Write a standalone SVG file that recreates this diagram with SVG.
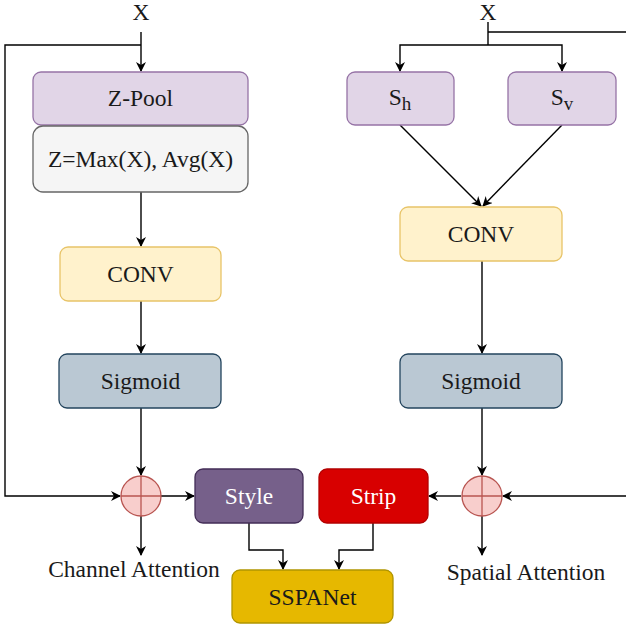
<svg xmlns="http://www.w3.org/2000/svg" width="626" height="629" viewBox="0 0 626 629">
  <defs>
    <marker id="arrow" viewBox="0 0 10 10" refX="9" refY="5" markerWidth="10" markerHeight="10" markerUnits="userSpaceOnUse" orient="auto">
      <path d="M0,0 L10,5 L0,10 L3,5 Z" fill="#000"/>
    </marker>
  </defs>
  <style>
    .t { font-family: "Liberation Serif", "Times New Roman", serif; font-size: 23.5px; fill: #1a1a1a; text-anchor: middle; }
    .w { fill: #ffffff; }
    .edge { fill: none; stroke: #000; stroke-width: 1.4; }
    .arr { marker-end: url(#arrow); }
    .purple { fill: #e1d5e7; stroke: #9673a6; stroke-width: 1.3; }
    .grey { fill: #f5f5f5; stroke: #666666; stroke-width: 1.3; }
    .yellow { fill: #fff2cc; stroke: #e8c468; stroke-width: 1.3; }
    .blue { fill: #bac8d3; stroke: #23445d; stroke-width: 1.3; }
    .sum circle { fill: #f8cecc; stroke: #b85450; stroke-width: 1.3; }
    .sum line { stroke: #b85450; stroke-width: 1.3; }
  </style>

  <!-- input labels -->
  <g id="input-left"><text class="t" x="141" y="20">X</text></g>
  <g id="input-right"><text class="t" x="488" y="20">X</text></g>

  <!-- connectors -->
  <g id="edges">
    <!-- left branch -->
    <path class="edge arr" d="M141,32 V71"/>
    <path class="edge arr" d="M141,45 H5 V496 H120"/>
    <path class="edge arr" d="M141,192 V246"/>
    <path class="edge arr" d="M141,301 V353"/>
    <path class="edge arr" d="M141,408 V475"/>
    <path class="edge arr" d="M161,496 H194"/>
    <path class="edge arr" d="M141,516 V555"/>
    <path class="edge arr" d="M249,523 V550 H283 V569"/>
    <!-- right branch -->
    <path class="edge" d="M488,22 V45"/>
    <path class="edge" d="M488,32 H626"/>
    <path class="edge arr" d="M488,45 H400 V71"/>
    <path class="edge arr" d="M488,45 H562 V71"/>
    <path class="edge arr" d="M400,125 L481,206"/>
    <path class="edge arr" d="M562,125 L483,206"/>
    <path class="edge arr" d="M482,261 V353"/>
    <path class="edge arr" d="M482,408 V475"/>
    <path class="edge arr" d="M626,496 H503"/>
    <path class="edge arr" d="M461,496 H429"/>
    <path class="edge arr" d="M482,516 V555"/>
    <path class="edge arr" d="M373,523 V550 H339 V569"/>
  </g>

  <!-- channel attention branch -->
  <g id="zpool">
    <rect class="purple" x="33" y="72" width="215" height="53" rx="8"/>
    <text class="t" x="140.5" y="106">Z-Pool</text>
  </g>
  <g id="zmax">
    <rect class="grey" x="33" y="126" width="215" height="66" rx="10"/>
    <text class="t" x="140.5" y="167" fill="#333">Z=Max(X), Avg(X)</text>
  </g>
  <g id="conv-left">
    <rect class="yellow" x="60" y="247" width="161" height="54" rx="8"/>
    <text class="t" x="140.5" y="282">CONV</text>
  </g>
  <g id="sigmoid-left">
    <rect class="blue" x="59" y="354" width="162" height="54" rx="8"/>
    <text class="t" x="140.5" y="389">Sigmoid</text>
  </g>
  <g id="sum-left" class="sum">
    <circle cx="141" cy="496" r="20"/>
    <line x1="121" y1="496" x2="161" y2="496"/>
    <line x1="141" y1="476" x2="141" y2="516"/>
  </g>
  <g id="label-channel"><text class="t" x="134" y="577">Channel Attention</text></g>

  <!-- spatial attention branch -->
  <g id="sh">
    <rect class="purple" x="347" y="72" width="107" height="53" rx="8"/>
    <text class="t" x="400" y="105">S<tspan font-size="19" dy="5">h</tspan></text>
  </g>
  <g id="sv">
    <rect class="purple" x="508" y="72" width="108" height="53" rx="8"/>
    <text class="t" x="562" y="105">S<tspan font-size="19" dy="5">v</tspan></text>
  </g>
  <g id="conv-right">
    <rect class="yellow" x="400" y="207" width="162" height="54" rx="8"/>
    <text class="t" x="481" y="242">CONV</text>
  </g>
  <g id="sigmoid-right">
    <rect class="blue" x="400" y="354" width="162" height="54" rx="8"/>
    <text class="t" x="481" y="389">Sigmoid</text>
  </g>
  <g id="sum-right" class="sum">
    <circle cx="482" cy="496" r="20"/>
    <line x1="462" y1="496" x2="502" y2="496"/>
    <line x1="482" y1="476" x2="482" y2="516"/>
  </g>
  <g id="label-spatial"><text class="t" x="526" y="580">Spatial Attention</text></g>

  <!-- fusion -->
  <g id="style">
    <rect x="195" y="469" width="108" height="54" rx="8" fill="#76608a" stroke="#432d57" stroke-width="1.3"/>
    <text class="t w" x="249" y="504">Style</text>
  </g>
  <g id="strip">
    <rect x="319" y="469" width="109" height="54" rx="8" fill="#d80000" stroke="#b20000" stroke-width="1.3"/>
    <text class="t w" x="373.5" y="504">Strip</text>
  </g>
  <g id="sspanet">
    <rect x="232" y="570" width="161" height="53" rx="8" fill="#e6b800" stroke="#b09500" stroke-width="1.3"/>
    <text class="t" x="312.5" y="605">SSPANet</text>
  </g>
</svg>
